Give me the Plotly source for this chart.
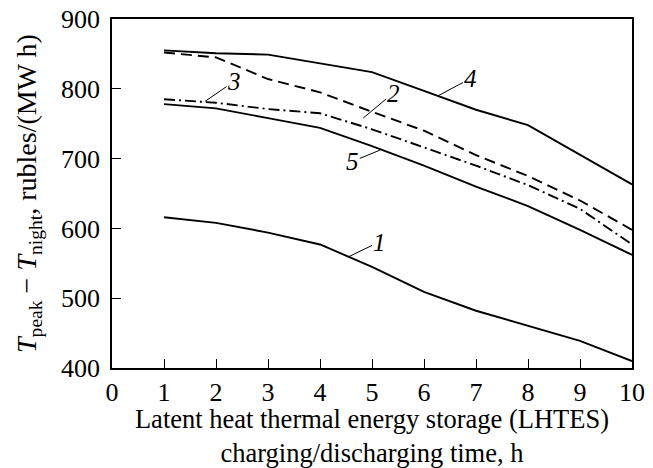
import plotly.graph_objects as go

hours = [1, 2, 3, 4, 5, 6, 7, 8, 9, 10]
curve1 = [616, 608, 594, 577, 545, 509, 482, 460, 439, 410]
curve2 = [852, 845, 814, 795, 767, 740, 705, 675, 640, 598]
curve3 = [785, 780, 771, 765, 742, 716, 690, 662, 628, 577]
curve4 = [855, 851, 849, 836, 824, 797, 770, 748, 706, 663]
curve5 = [778, 772, 758, 744, 718, 690, 660, 632, 598, 562]

x_ticks = list(range(0, 11))
y_ticks = [400, 500, 600, 700, 800, 900]

labels = [
    # text, x, y (leader tip), ax, ay
    ("1", 4.54, 559, 31, -15),
    ("2", 4.83, 758, 30, -25),
    ("3", 1.79, 782, 29, -20),
    ("4", 6.27, 790, 32, -17),
    ("5", 5.15, 712, -27, 11),
]

FONT = "Liberation Serif"
fig = go.Figure()
styles = [
    (curve1, "solid"),
    (curve2, "11px,6px"),
    (curve3, "11px,4px,2px,4px"),
    (curve4, "solid"),
    (curve5, "solid"),
]
for ys, dash in styles:
    fig.add_trace(go.Scatter(x=hours, y=ys, mode="lines",
                             line=dict(color="black", width=1.9, dash=dash),
                             showlegend=False))

for t, x, y, ax, ay in labels:
    fig.add_annotation(x=x, y=y, text=f"<i>{t}</i>", showarrow=True,
                       arrowhead=0, arrowwidth=1, arrowcolor="black",
                       ax=ax, ay=ay, font=dict(family=FONT, size=25, color="black"),
                       borderpad=0)

fig.update_layout(
    width=653, height=468,
    margin=dict(l=112, r=21, t=19, b=100),
    paper_bgcolor="white", plot_bgcolor="white",
    font=dict(family=FONT, size=26, color="black"),
)
fig.update_xaxes(range=[0, 10], tickvals=x_ticks, ticks="inside", ticklen=9,
                 tickwidth=1.3, tickcolor="black", automargin=False,
                 showline=True, linecolor="black", linewidth=1.8, mirror=True,
                 showgrid=False, zeroline=False,
                 tickfont=dict(size=26), ticklabelstandoff=0,
                 title=dict(text="Latent heat thermal energy storage (LHTES)<br>charging/discharging time, h",
                            font=dict(size=26.5), standoff=6))
fig.update_yaxes(range=[400, 900], tickvals=y_ticks, ticks="inside", ticklen=9,
                 tickwidth=1.3, tickcolor="black", automargin=False,
                 showline=True, linecolor="black", linewidth=1.8, mirror=True,
                 showgrid=False, zeroline=False,
                 tickfont=dict(size=26), ticklabelstandoff=5,
                 title=dict(text="<i>T</i><sub>peak</sub> − <i>T</i><sub>night</sub>, rubles/(MW h)",
                            font=dict(size=28), standoff=16))

fig.write_html("out.html")
